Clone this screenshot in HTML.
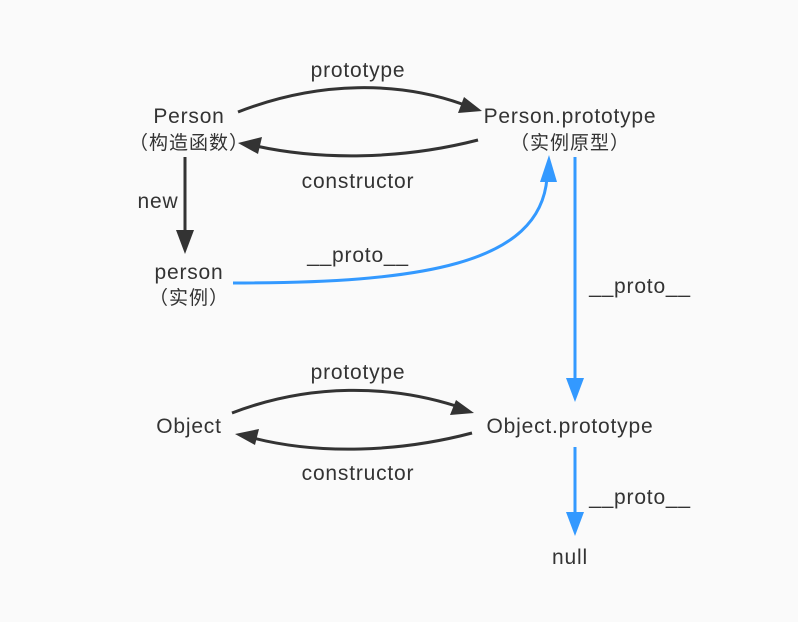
<!DOCTYPE html>
<html><head><meta charset="utf-8"><style>
html,body{margin:0;padding:0;background:#fafafa;}
svg{display:block}
text{font-family:"Liberation Sans","Noto Sans CJK SC",sans-serif;font-size:21px;letter-spacing:0.8px;fill:#333;text-anchor:middle}
text.c{font-size:19px;letter-spacing:1px}
</style></head><body>
<svg width="798" height="622" viewBox="0 0 798 622">
<rect width="798" height="622" fill="#fafafa"/>
<g fill="none" stroke="#333" stroke-width="3">
<path d="M238,112 C320,80 400,82 462,104"/>
<path d="M478,140 C400,160 320,160 256,146"/>
<path d="M185,157 L185,232"/>
<path d="M232,413 C310,383 390,385 456,406"/>
<path d="M472,433 C400,452 320,455 253,438"/>
</g>
<g fill="#333">
<polygon points="482,111 458,113 464,97"/>
<polygon points="238,143 262,137 258,154"/>
<polygon points="185,254 176,230 194,230"/>
<polygon points="474,413 450,415 456,400"/>
<polygon points="235,434 259,429 255,445"/>
</g>
<g fill="none" stroke="#3399ff" stroke-width="3">
<path d="M233,283 C420,283 540,265 547,178"/>
<path d="M575,157 L575,380"/>
<path d="M575,447 L575,515"/>
</g>
<g fill="#3399ff">
<polygon points="549,155 540,182 557,182"/>
<polygon points="575,402 566,378 584,378"/>
<polygon points="575,536 566,512 584,512"/>
</g>
<text x="189" y="123">Person</text>
<text class="c" x="189" y="149">（构造函数）</text>
<text x="570" y="123">Person.prototype</text>
<text class="c" x="570" y="149">（实例原型）</text>
<text x="189" y="279">person</text>
<text class="c" x="189" y="304">（实例）</text>
<text x="189" y="433">Object</text>
<text x="570" y="433">Object.prototype</text>
<text x="570" y="564">null</text>
<text x="358" y="77">prototype</text>
<text x="358" y="188">constructor</text>
<text x="158" y="208">new</text>
<text x="358" y="262">__proto__</text>
<text x="640" y="293">__proto__</text>
<text x="358" y="379">prototype</text>
<text x="358" y="480">constructor</text>
<text x="640" y="504">__proto__</text>
</svg>
</body></html>
